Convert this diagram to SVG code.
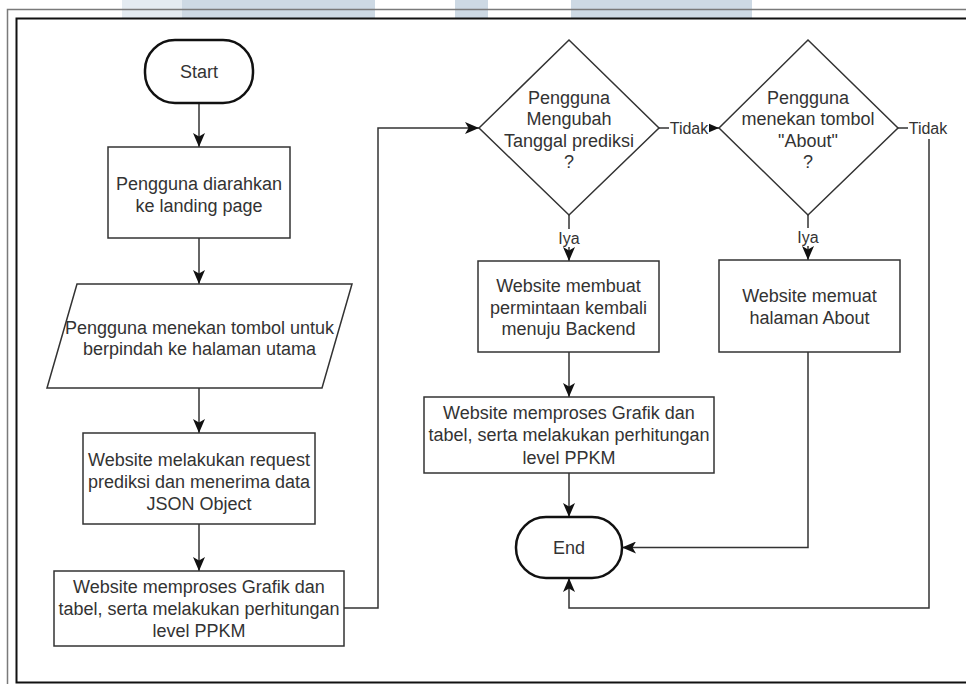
<svg xmlns="http://www.w3.org/2000/svg" width="966" height="684" viewBox="0 0 966 684">
<defs>
<style>
.wm{fill:#cdd9e4}
.wm2{fill:#e4ebf1}
.fo{fill:none;stroke:#7a7a7a;stroke-width:1.5}
.fi{fill:none;stroke:#111;stroke-width:2}
.shape{fill:#fff;stroke:#333;stroke-width:1.5}
.term{fill:#fff;stroke:#111;stroke-width:2.5}
.t{font-family:"Liberation Sans",Arial,sans-serif;font-size:18px;fill:#333;text-anchor:middle}
.lbl{font-family:"Liberation Sans",Arial,sans-serif;font-size:16px;fill:#333;text-anchor:middle}
.edge{fill:none;stroke:#333;stroke-width:1.5;marker-end:url(#arr)}
.lblbg{fill:#fff}
</style>
<marker id="arr" markerUnits="userSpaceOnUse" markerWidth="14" markerHeight="12" refX="14" refY="6" orient="auto"><path d="M0,0 L14,6 L0,12 L3.5,6 z" fill="#111"/></marker>
</defs>
<rect x="0" y="0" width="966" height="684" fill="#fff"/>
<g id="watermark">
<rect class="wm2" x="122" y="0" width="60" height="18"/>
<rect class="wm" x="182" y="0" width="193" height="18"/>
<rect class="wm" x="455" y="0" width="33" height="18"/>
<rect class="wm" x="571" y="0" width="181" height="18"/>
</g>
<g id="frame">
<path class="fo" d="M966,9.5 H7.5 V684"/>
<path class="fi" d="M966,18.5 H16.5 V682.5 H966"/>
</g>
<g id="connectors">
<path class="edge" d="M199,103 V147"/>
<path class="edge" d="M199,238 V284"/>
<path class="edge" d="M199,388 V433"/>
<path class="edge" d="M199,524 V571"/>
<path class="edge" d="M344,608 H378 V128 H479"/>
<path class="edge" d="M569,215 V261"/>
<path class="edge" d="M659,128 H719"/>
<path class="edge" d="M569,352 V397"/>
<path class="edge" d="M569,473 V517"/>
<path class="edge" d="M808,215 V260"/>
<path class="edge" d="M808,352 V547.5 H622"/>
<path class="edge" d="M898,128 H929 V608 H569 V578"/>
<rect class="lblbg" x="557" y="229" width="24" height="18"/>
<text class="lbl" x="569" y="244">Iya</text>
<rect class="lblbg" x="669" y="119" width="40" height="18"/>
<text class="lbl" x="689" y="134">Tidak</text>
<rect class="lblbg" x="796" y="228" width="24" height="18"/>
<text class="lbl" x="808" y="243">Iya</text>
<rect class="lblbg" x="908" y="119" width="41" height="20"/>
<text class="lbl" x="928" y="134">Tidak</text>
</g>
<g id="start">
<rect class="term" x="145" y="40" width="108" height="63" rx="30" ry="30"/>
<text class="t" x="199" y="78">Start</text>
</g>
<g id="landing">
<rect class="shape" x="108" y="147" width="182" height="91"/>
<text class="t" x="199" y="189.5">Pengguna diarahkan</text>
<text class="t" x="199" y="211.5">ke landing page</text>
</g>
<g id="tombol">
<polygon class="shape" points="77,284 352,284 322,388 47,388"/>
<text class="t" x="199.5" y="333.5">Pengguna menekan tombol untuk</text>
<text class="t" x="199.5" y="355">berpindah ke halaman utama</text>
</g>
<g id="request">
<rect class="shape" x="83" y="433" width="232" height="91"/>
<text class="t" x="199" y="465.5">Website melakukan request</text>
<text class="t" x="199" y="487.5">prediksi dan menerima data</text>
<text class="t" x="199" y="509.5">JSON Object</text>
</g>
<g id="proses1">
<rect class="shape" x="54" y="571" width="290" height="75"/>
<text class="t" x="199" y="593">Website memproses Grafik dan</text>
<text class="t" x="199" y="615">tabel, serta melakukan perhitungan</text>
<text class="t" x="199" y="637">level PPKM</text>
</g>
<g id="decision1">
<polygon class="shape" points="569,40 659,128 569,215 479,128"/>
<text class="t" x="569" y="103.5">Pengguna</text>
<text class="t" x="569" y="125">Mengubah</text>
<text class="t" x="569" y="146.5">Tanggal prediksi</text>
<text class="t" x="569" y="168">?</text>
</g>
<g id="backend">
<rect class="shape" x="478" y="261" width="181" height="91"/>
<text class="t" x="568.5" y="292">Website membuat</text>
<text class="t" x="568.5" y="313.5">permintaan kembali</text>
<text class="t" x="568.5" y="335">menuju Backend</text>
</g>
<g id="proses2">
<rect class="shape" x="424" y="397" width="290" height="76"/>
<text class="t" x="569" y="419">Website memproses Grafik dan</text>
<text class="t" x="569" y="441">tabel, serta melakukan perhitungan</text>
<text class="t" x="569" y="463.5">level PPKM</text>
</g>
<g id="decision2">
<polygon class="shape" points="808,40 898,128 808,215 719,128"/>
<text class="t" x="808" y="103.5">Pengguna</text>
<text class="t" x="808" y="125">menekan tombol</text>
<text class="t" x="808" y="146.5">"About"</text>
<text class="t" x="808" y="168">?</text>
</g>
<g id="about">
<rect class="shape" x="719" y="260" width="181" height="92"/>
<text class="t" x="809.5" y="302">Website memuat</text>
<text class="t" x="809.5" y="323.5">halaman About</text>
</g>
<g id="end">
<rect class="term" x="516" y="517" width="106" height="61" rx="30" ry="30"/>
<text class="t" x="569" y="554">End</text>
</g>
</svg>
